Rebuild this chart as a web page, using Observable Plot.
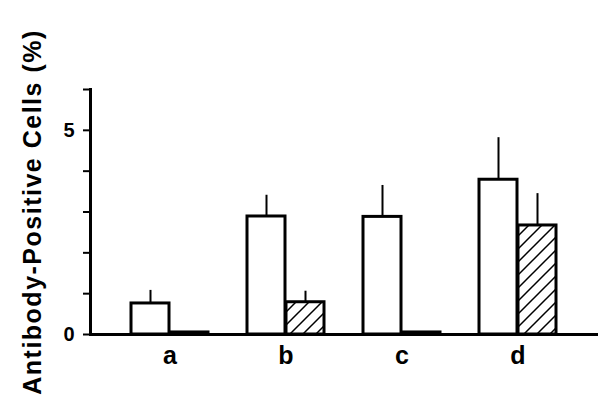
<!DOCTYPE html>
<html>
<head>
<meta charset="utf-8">
<script src="https://cdn.jsdelivr.net/npm/d3@7"></script>
<script src="https://cdn.jsdelivr.net/npm/@observablehq/plot@0.6"></script>
<style>
  html, body { margin: 0; padding: 0; background: #fff; }
</style>
</head>
<body>
<div id="chart"></div>
<script>
const categories = ["a", "b", "c", "d"];
const whiteValues = [0.76, 2.89, 2.88, 3.79];
const whiteErrorTops = [1.08, 3.41, 3.65, 4.82];
const hatchValues = [0.05, 0.79, 0.05, 2.67];
const hatchErrorTops = [null, 1.06, null, 3.45];
const yTicks = [0, 1, 2, 3, 4, 5, 6];
const yTickLabels = [0, 5];
const yTitle = "Antibody-Positive Cells (%)";

const white = categories.map((c, i) => ({cat: c, v: whiteValues[i], top: whiteErrorTops[i]}));
const hatch = categories.map((c, i) => ({cat: c, v: hatchValues[i], top: hatchErrorTops[i]}));

const svg = Plot.plot({
  width: 610,
  height: 411,
  marginLeft: 90,
  marginRight: 12,
  marginTop: 89,
  marginBottom: 77,
  style: {fontFamily: "'Liberation Sans', Arial, sans-serif", fontWeight: "bold", background: "#fff", color: "#000"},
  x: {domain: categories, paddingInner: 1/3, paddingOuter: 0.338, label: null},
  y: {domain: [0, 6], label: null},
  marks: [
    Plot.barY(white, {x: "cat", y: "v", fill: "white", stroke: "black", strokeWidth: 3, insetRight: 39}),
    Plot.barY(hatch, {x: "cat", y: "v", fill: "url(#hatch)", stroke: "black", strokeWidth: 3, insetLeft: 39}),
    Plot.ruleX(white, {x: "cat", y1: "v", y2: "top", dx: -19.5, stroke: "black", strokeWidth: 2}),
    Plot.ruleX(hatch.filter(d => d.top != null), {x: "cat", y1: "v", y2: "top", dx: 19.5, stroke: "black", strokeWidth: 2}),
    Plot.ruleY([0], {stroke: "black", strokeWidth: 3}),
    Plot.frame({anchor: "left", stroke: "black", strokeWidth: 3}),
    Plot.axisY({ticks: yTicks, tickSize: 7, strokeWidth: 2, text: null}),
    Plot.axisY({ticks: yTickLabels, tickFormat: "d", tickSize: 0, tickPadding: 16, fontSize: 20, fontWeight: "bold"}),
    Plot.axisX({tickSize: 0, tickPadding: 12, fontSize: 25, fontWeight: "bold"}),
    Plot.text([yTitle], {frameAnchor: "left", textAnchor: "middle", rotate: -90, dx: -58, fontSize: 25, fontWeight: "bold", fill: "black", className: "ytitle"})
  ]
});

d3.select(svg).selectAll(".ytitle text").style("letter-spacing", "1.5px");

const defs = d3.select(svg).insert("defs", ":first-child");
const pat = defs.append("pattern")
  .attr("id", "hatch")
  .attr("patternUnits", "userSpaceOnUse")
  .attr("width", 13)
  .attr("height", 13);
pat.append("rect").attr("width", 13).attr("height", 13).attr("fill", "white");
pat.append("path")
  .attr("d", "M-2,2 L2,-2 M0,13 L13,0 M11,15 L15,11")
  .attr("stroke", "black")
  .attr("stroke-width", 1.5);

document.getElementById("chart").appendChild(svg);
</script>
</body>
</html>
